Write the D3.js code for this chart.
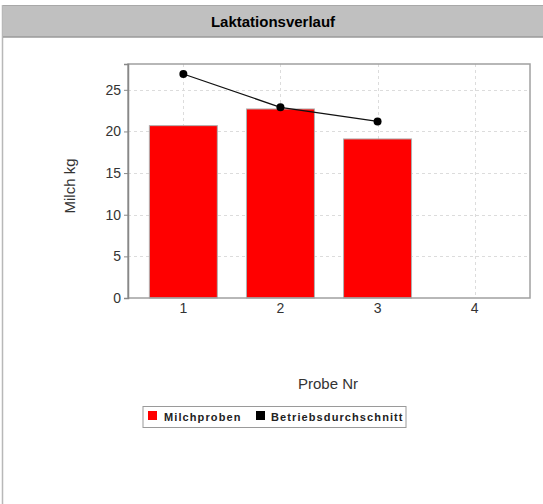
<!DOCTYPE html>
<html>
<head>
<meta charset="utf-8">
<script src="https://cdn.jsdelivr.net/npm/d3@7"></script>
<style>
  body { margin: 0; background: #fff; }
  svg { display: block; font-family: "Liberation Sans", Arial, sans-serif; }
</style>
</head>
<body>
<div id="screen"></div>
<script>
var width = 543;
var height = 504;

// data
var categories = ["1", "2", "3", "4"];
var milchproben = [20.7, 22.7, 19.1, null];
var betriebsschnitt = [26.9, 22.9, 21.2, null];
var yTicks = [0, 5, 10, 15, 20, 25];
var yMax = 28.1;

var plot = { left: 128, right: 530, top: 64, bottom: 298 };

var svg = d3.select("#screen").append("svg")
  .attr("width", width).attr("height", height);

// page frame and title bar
svg.append("rect").attr("x", 0).attr("y", 0).attr("width", width).attr("height", height).attr("fill", "#fff");
svg.append("line").attr("x1", 2.5).attr("x2", 2.5).attr("y1", 5).attr("y2", height)
  .attr("stroke", "#b8b8b8").attr("stroke-width", 1.5);
svg.append("rect").attr("x", 3).attr("y", 5).attr("width", width - 3).attr("height", 32)
  .attr("fill", "#c0c0c0");
svg.append("line").attr("x1", 3).attr("x2", width).attr("y1", 5.5).attr("y2", 5.5)
  .attr("stroke", "#a8a8a8");
svg.append("line").attr("x1", 3).attr("x2", width).attr("y1", 37).attr("y2", 37)
  .attr("stroke", "#9a9a9a").attr("stroke-width", 1.5);
svg.append("text").attr("x", 273).attr("y", 27).attr("text-anchor", "middle")
  .attr("font-size", "15px").attr("font-weight", "bold").attr("fill", "#000")
  .text("Laktationsverlauf");

var x = d3.scaleBand().domain(categories).range([plot.left, plot.right])
  .paddingInner(0.3).paddingOuter(0.22);
var y = d3.scaleLinear().domain([0, yMax]).range([plot.bottom, plot.top]);

// grid
var grid = svg.append("g").attr("stroke", "#dcdcdc").attr("stroke-dasharray", "3,3").attr("stroke-width", 1);
grid.selectAll("line.h").data(yTicks.slice(1)).enter().append("line")
  .attr("x1", plot.left).attr("x2", plot.right)
  .attr("y1", function(d){ return Math.round(y(d)) + 0.5; })
  .attr("y2", function(d){ return Math.round(y(d)) + 0.5; });
grid.selectAll("line.v").data(categories).enter().append("line")
  .attr("y1", plot.top).attr("y2", plot.bottom)
  .attr("x1", function(d){ return Math.round(x(d) + x.bandwidth() / 2) + 0.5; })
  .attr("x2", function(d){ return Math.round(x(d) + x.bandwidth() / 2) + 0.5; });

// bars
var barData = categories.map(function(c, i){ return { cat: c, v: milchproben[i] }; })
  .filter(function(d){ return d.v != null; });
svg.selectAll("rect.bar").data(barData).enter().append("rect")
  .attr("class", "bar")
  .attr("x", function(d){ return x(d.cat); })
  .attr("y", function(d){ return y(d.v); })
  .attr("width", x.bandwidth())
  .attr("height", function(d){ return y(0) - y(d.v); })
  .attr("fill", "#ff0000")
  .attr("stroke", "#b0b0b0").attr("stroke-width", 1);

// plot border
svg.append("rect").attr("x", plot.left).attr("y", plot.top)
  .attr("width", plot.right - plot.left).attr("height", plot.bottom - plot.top)
  .attr("fill", "none").attr("stroke", "#a0a0a0").attr("stroke-width", 1.5);

// line series
var lineData = categories.map(function(c, i){ return { cat: c, v: betriebsschnitt[i] }; })
  .filter(function(d){ return d.v != null; });
var line = d3.line()
  .x(function(d){ return x(d.cat) + x.bandwidth() / 2; })
  .y(function(d){ return y(d.v); });
svg.append("path").datum(lineData).attr("d", line)
  .attr("fill", "none").attr("stroke", "#111").attr("stroke-width", 1.3);
svg.selectAll("circle.pt").data(lineData).enter().append("circle")
  .attr("cx", function(d){ return x(d.cat) + x.bandwidth() / 2; })
  .attr("cy", function(d){ return y(d.v); })
  .attr("r", 4).attr("fill", "#000");

// axes
var yAxis = svg.append("g").attr("transform", "translate(" + plot.left + ",0)")
  .call(d3.axisLeft(y).tickValues(yTicks).tickSize(4).tickPadding(3));
yAxis.select(".domain").attr("stroke", "#888").attr("stroke-width", 1.5);
yAxis.selectAll(".tick line").attr("stroke", "#888");
yAxis.selectAll(".tick text").attr("font-size", "14px").attr("fill", "#333")
  .attr("font-family", "Liberation Sans, Arial, sans-serif");

var xAxis = svg.append("g").attr("transform", "translate(0," + plot.bottom + ")")
  .call(d3.axisBottom(x).tickSize(0).tickPadding(5));
xAxis.select(".domain").remove();
xAxis.selectAll(".tick text").attr("font-size", "14px").attr("fill", "#333")
  .attr("font-family", "Liberation Sans, Arial, sans-serif");

// axis titles
svg.append("text").attr("transform", "translate(75,186) rotate(-90)")
  .attr("text-anchor", "middle").attr("font-size", "15px").attr("fill", "#333")
  .text("Milch kg");
svg.append("text").attr("x", 328).attr("y", 389).attr("text-anchor", "middle")
  .attr("font-size", "15px").attr("fill", "#333")
  .text("Probe Nr");

// legend
var legendItems = [
  { label: "Milchproben", color: "#ff0000", x: 148, tx: 164 },
  { label: "Betriebsdurchschnitt", color: "#000000", x: 256, tx: 271 }
];
svg.append("rect").attr("x", 143).attr("y", 406.5).attr("width", 263).attr("height", 21)
  .attr("fill", "#fff").attr("stroke", "#9a9a9a").attr("stroke-width", 1);
var lg = svg.selectAll("g.legend").data(legendItems).enter().append("g");
lg.append("rect").attr("x", function(d){ return d.x; }).attr("y", 411)
  .attr("width", 9).attr("height", 9).attr("fill", function(d){ return d.color; });
lg.append("text").attr("x", function(d){ return d.tx; }).attr("y", 421)
  .attr("font-size", "11px").attr("font-weight", "bold").attr("fill", "#222")
  .attr("letter-spacing", "1.1px")
  .text(function(d){ return d.label; });
</script>
</body>
</html>
